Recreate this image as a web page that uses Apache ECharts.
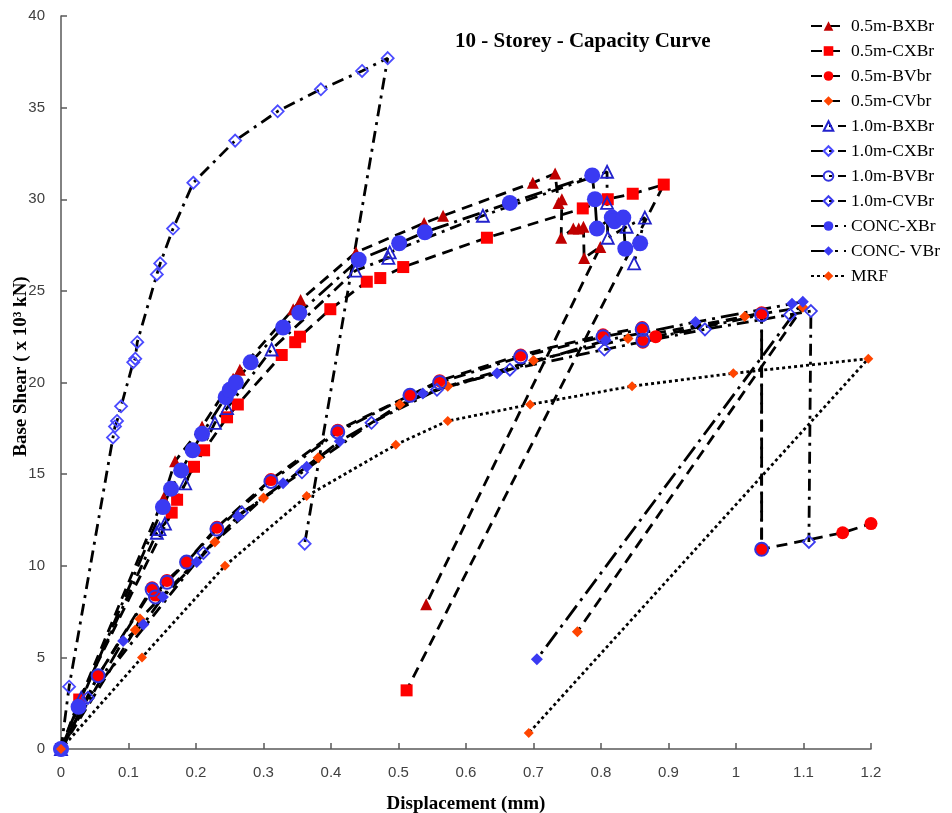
<!DOCTYPE html>
<html><head><meta charset="utf-8">
<script src="https://cdn.jsdelivr.net/npm/echarts@6/dist/echarts.min.js"></script>
<style>html,body{margin:0;padding:0;background:#fff}#c{width:952px;height:813px}</style>
</head><body><div id="c"></div>
<script>
const seriesNames = ['0.5m-BXBr','0.5m-CXBr','0.5m-BVbr','0.5m-CVbr','1.0m-BXBr','1.0m-CXBr','1.0m-BVBr','1.0m-CVBr','CONC-XBr','CONC- VBr','MRF'];

// [displacement (mm), base shear (x10^3 kN)]
const bxbr05 = [[0,0],[0.027,2.6],[0.152,13.7],[0.169,15.7],[0.209,17.6],[0.255,20.2],[0.265,20.7],[0.344,24.0],[0.355,24.5],[0.437,27.1],[0.538,28.7],[0.566,29.1],[0.699,30.9],[0.732,31.4],[0.737,29.8],[0.742,30.0],[0.741,27.9],[0.759,28.4],[0.767,28.4],[0.774,28.5],[0.775,26.8],[0.799,27.4],[0.541,7.9]];
const cxbr05 = [[0,0],[0.027,2.7],[0.164,12.9],[0.172,13.6],[0.197,15.4],[0.212,16.3],[0.246,18.1],[0.262,18.8],[0.327,21.5],[0.347,22.2],[0.354,22.5],[0.399,24.0],[0.453,25.5],[0.473,25.7],[0.507,26.3],[0.631,27.9],[0.773,29.5],[0.81,30.0],[0.847,30.3],[0.893,30.8],[0.512,3.2]];
const bvbr05 = [[0,0],[0.055,4.0],[0.135,8.8],[0.14,8.4],[0.157,9.2],[0.186,10.2],[0.231,12.1],[0.311,14.7],[0.41,17.4],[0.517,19.3],[0.561,20.1],[0.681,21.5],[0.803,22.6],[0.861,23.0],[0.862,22.2],[0.881,22.5],[1.038,23.8],[1.038,10.9],[1.158,11.8],[1.2,12.3]];
const cvbr05 = [[0,0],[0.11,6.5],[0.117,7.1],[0.228,11.3],[0.30,13.7],[0.381,15.9],[0.502,18.8],[0.573,19.8],[0.70,21.2],[0.840,22.4],[1.013,23.6],[1.099,24.1],[0.765,6.4]];
const bxbr10 = [[0,0],[0.03,2.8],[0.142,11.8],[0.146,12.0],[0.154,12.3],[0.184,14.5],[0.228,17.8],[0.246,18.6],[0.312,21.8],[0.436,26.1],[0.485,26.8],[0.487,27.1],[0.625,29.1],[0.809,31.5],[0.809,29.8],[0.81,27.9],[0.838,28.5],[0.865,29.0],[0.849,26.5]];
const cxbr10 = [[0,0],[0.012,3.4],[0.077,17.0],[0.08,17.6],[0.083,17.9],[0.089,18.7],[0.107,21.1],[0.11,21.3],[0.113,22.2],[0.142,25.9],[0.147,26.5],[0.166,28.4],[0.196,30.9],[0.258,33.2],[0.321,34.8],[0.385,36.0],[0.446,37.0],[0.484,37.7],[0.361,11.2]];
const bvbr10 = [[0,0],[0.055,4.0],[0.135,8.7],[0.14,8.3],[0.157,9.1],[0.186,10.2],[0.231,12.0],[0.311,14.6],[0.41,17.3],[0.517,19.3],[0.561,20.0],[0.681,21.4],[0.803,22.5],[0.861,22.9],[0.862,22.3],[1.038,23.7],[1.038,10.9]];
const cvbr10 = [[0,0],[0.04,2.8],[0.211,10.7],[0.268,12.9],[0.357,15.1],[0.460,17.8],[0.557,19.6],[0.665,20.7],[0.805,21.8],[0.954,22.9],[1.080,23.7],[1.111,23.9],[1.108,11.3]];
const concX = [[0,0],[0.026,2.3],[0.151,13.2],[0.163,14.2],[0.178,15.2],[0.195,16.3],[0.209,17.2],[0.244,19.2],[0.25,19.6],[0.259,20.0],[0.281,21.1],[0.329,23.0],[0.353,23.8],[0.441,26.7],[0.501,27.6],[0.539,28.2],[0.665,29.8],[0.787,31.3],[0.791,30.0],[0.794,28.4],[0.816,29.0],[0.82,28.8],[0.833,29.0],[0.836,27.3],[0.858,27.6]];
const concV = [[0,0],[0.092,5.9],[0.122,6.8],[0.151,8.3],[0.201,10.2],[0.262,12.7],[0.329,14.5],[0.364,15.4],[0.413,16.8],[0.536,19.4],[0.646,20.5],[0.807,22.3],[0.940,23.3],[1.083,24.3],[1.099,24.4],[0.705,4.9]];
const mrf = [[0,0],[0.12,5.0],[0.243,10.0],[0.364,13.8],[0.496,16.6],[0.573,17.9],[0.695,18.8],[0.846,19.8],[0.996,20.5],[1.196,21.3],[0.693,0.87]];

const dataSets = [bxbr05,cxbr05,bvbr05,cvbr05,bxbr10,cxbr10,bvbr10,cvbr10,concX,concV,mrf];

const DASH = [11,7];
const DASHDOT = [12,6,3,6];
const LDASHDOT = [18,6,3,6];
const DOT = [3,3];
const styles = [
  {sym:'triangle', size:12, fill:'#C00000', border:'#C00000', dash:DASH},
  {sym:'rect', size:12, fill:'#FF0000', border:'#FF0000', dash:DASH},
  {sym:'circle', size:13, fill:'#FF0000', border:'#FF0000', dash:DASH},
  {sym:'diamond', size:11, fill:'#FF4500', border:'#FF4500', dash:DASH},
  {sym:'triangle', size:12, fill:'rgba(255,255,255,0)', border:'#2222CC', dash:DASHDOT, bw:1.8},
  {sym:'diamond', size:12, fill:'rgba(255,255,255,0)', border:'#4B4BFF', dash:DASHDOT, bw:1.8},
  {sym:'circle', size:13, fill:'rgba(255,255,255,0)', border:'#3333DD', dash:DASHDOT, bw:2},
  {sym:'diamond', size:12, fill:'rgba(255,255,255,0)', border:'#3B3BEE', dash:DASHDOT, bw:1.8},
  {sym:'circle', size:16, fill:'#3A3AF2', border:'#3A3AF2', dash:LDASHDOT},
  {sym:'diamond', size:12, fill:'#3A3AF2', border:'#3A3AF2', dash:LDASHDOT},
  {sym:'diamond', size:10, fill:'#FF4500', border:'#FF4500', dash:DOT}
];

const series = seriesNames.map((n,i)=>({
  name:n, type:'line', data:dataSets[i],
  symbol:styles[i].sym, symbolSize:styles[i].size,
  showSymbol:true, showAllSymbol:true, animation:false,
  lineStyle:{color:'#000', width:2.8, type:styles[i].dash},
  itemStyle:{color:styles[i].fill, borderColor:styles[i].border, borderWidth:styles[i].bw||0},
  emphasis:{disabled:true}
}));

const chart = echarts.init(document.getElementById('c'), null, {renderer:'canvas'});
chart.setOption({
  animation:false,
  backgroundColor:'#fff',
  title:{text:'10 - Storey - Capacity Curve', left:450, top:26,
    textStyle:{fontFamily:'Liberation Serif', fontWeight:'bold', fontSize:21, color:'#000'}},
  legend:{orient:'vertical', left:805, top:12, itemWidth:35, itemHeight:12, itemGap:7,
    data:seriesNames,
    textStyle:{fontFamily:'Liberation Serif', fontSize:17.5, color:'#000', lineHeight:17}},
  grid:{left:61, right:81, top:16, bottom:64, containLabel:false, outerBoundsMode:'none'},
  xAxis:{type:'value', min:0, max:1.2, interval:0.1,
    name:'Displacement (mm)', nameLocation:'middle', nameGap:46,
    nameTextStyle:{fontFamily:'Liberation Serif', fontWeight:'bold', fontSize:19, color:'#000'},
    axisLine:{lineStyle:{color:'#595959', width:1.5}},
    axisTick:{inside:true, length:6, lineStyle:{color:'#595959', width:1.5}},
    axisLabel:{margin:16, fontFamily:'Liberation Sans', fontSize:15, color:'#404040'},
    splitLine:{show:false}},
  yAxis:{type:'value', min:0, max:40, interval:5,
    name:'Base Shear ( x 10³ kN)', nameLocation:'middle', nameGap:30, nameMoveOverlap:false,
    nameTextStyle:{fontFamily:'Liberation Serif', fontWeight:'bold', fontSize:19, color:'#000', padding:[0,0,0,32]},
    axisLine:{show:true, lineStyle:{color:'#595959', width:1.5}},
    axisTick:{show:true, inside:true, length:6, lineStyle:{color:'#595959', width:1.5}},
    axisLabel:{margin:16, fontFamily:'Liberation Sans', fontSize:15, color:'#404040'},
    splitLine:{show:false}},
  series:series
});
</script></body></html>
